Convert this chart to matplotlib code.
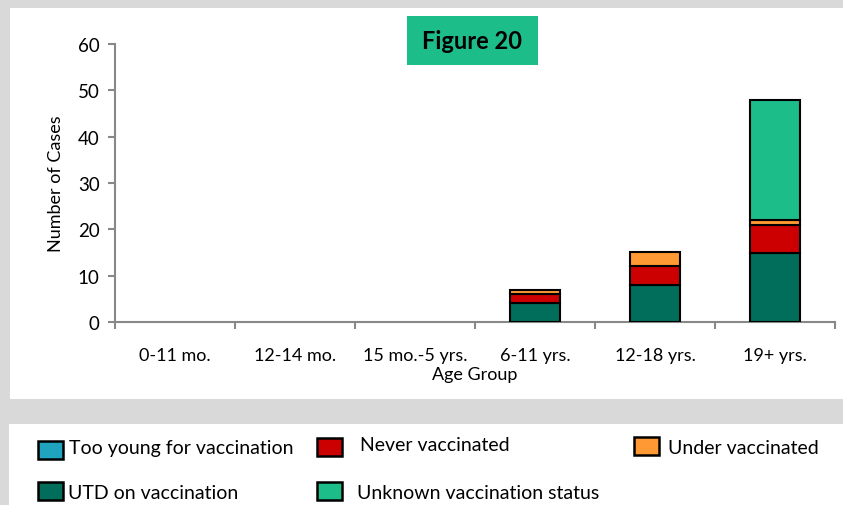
import matplotlib.pyplot as plt
import numpy as np
from matplotlib.patches import Rectangle

plt.rcParams['font.family'] = ['Lato', 'DejaVu Sans']

# data
groups = ["0-11 mo.", "12-14 mo.", "15 mo.-5 yrs.", "6-11 yrs.", "12-18 yrs.", "19+ yrs."]
too_young = [0, 0, 0, 0, 0, 0]
utd = [0, 0, 0, 4, 8, 15]
never = [0, 0, 0, 2, 4, 6]
under = [0, 0, 0, 1, 3, 1]
unknown = [0, 0, 0, 0, 0, 26]

series = [
    ("Too young for vaccination", too_young, "#1fa3bf"),
    ("UTD on vaccination", utd, "#006e5a"),
    ("Never vaccinated", never, "#cc0000"),
    ("Under vaccinated", under, "#ff9933"),
    ("Unknown vaccination status", unknown, "#1dbd8a"),
]

W, H = 843, 506
fig = plt.figure(figsize=(W / 100, H / 100), dpi=100)
fig.patch.set_facecolor("#d9d9d9")

def px(x, y, w, h):
    # pixel box (top-left origin) -> figure fraction
    return (x / W, 1 - (y + h) / H, w / W, h / H)

# white panels
for box in [(10, 9, 833, 391), (9, 425, 834, 81)]:
    x0, y0, w0, h0 = px(*box)
    fig.add_artist(Rectangle((x0, y0), w0, h0, transform=fig.transFigure,
                             facecolor="white", edgecolor="none", zorder=0))

ax = fig.add_axes([115 / W, 1 - 323 / H, (835 - 115) / W, (323 - 45) / H])
ax.set_facecolor("none")

x = np.arange(len(groups))
bottom = np.zeros(len(groups))
for name, vals, col in series:
    vals = np.array(vals, dtype=float)
    m = vals > 0
    if m.any():
        ax.bar(x[m], vals[m], 0.41, bottom=bottom[m], color=col,
               edgecolor="black", linewidth=1.5, zorder=3)
    bottom += vals

ax.set_xlim(-0.5, len(groups) - 0.5)
ax.set_ylim(0, 60)
ax.set_yticks(range(0, 61, 10))
ax.set_xticks(x)
ax.set_xticklabels(groups)
ax.set_xticks(np.arange(-0.5, len(groups), 1), minor=True)
ax.tick_params(axis="x", which="major", length=0, pad=18, labelsize=13)
ax.tick_params(axis="x", which="minor", length=5, width=1.5, color="#888888", direction="out")
ax.tick_params(axis="y", length=5, width=1.5, color="#888888", direction="out", labelsize=13.5, pad=6)
for s in ["top", "right"]:
    ax.spines[s].set_visible(False)
for s in ["left", "bottom"]:
    ax.spines[s].set_color("#888888")
    ax.spines[s].set_linewidth(1.5)
ax.set_xlabel("Age Group", fontsize=13, labelpad=2)
ax.set_ylabel("Number of Cases", fontsize=13, labelpad=10)

# title box
x0, y0, w0, h0 = px(407, 17, 131, 49)
fig.add_artist(Rectangle((x0, y0), w0, h0, transform=fig.transFigure,
                         facecolor="#1dbd8a", edgecolor="none", zorder=2))
fig.text(x0 + w0 / 2, y0 + h0 / 2, "Figure 20", ha="center", va="center",
         fontsize=17, fontweight="bold", zorder=3)

# legend boxes: patch x, patch y, text x, text center y (pixels)
leg_pos = {
    "Too young for vaccination": (38, 442, 69, 449),
    "Never vaccinated": (317, 439, 360, 446),
    "Under vaccinated": (634, 438, 668, 449),
    "UTD on vaccination": (38, 483, 68, 494),
    "Unknown vaccination status": (317, 483, 357, 494),
}
for name, vals, col in series:
    bx, by, tx, ty = leg_pos[name]
    x0, y0, w0, h0 = px(bx, by, 25, 18)
    fig.add_artist(Rectangle((x0, y0), w0, h0, transform=fig.transFigure,
                             facecolor=col, edgecolor="black", linewidth=1.8, zorder=3))
    fig.text(tx / W, 1 - ty / H, name, ha="left", va="center", fontsize=14)

fig.savefig("out.png", dpi=100, facecolor=fig.get_facecolor())
